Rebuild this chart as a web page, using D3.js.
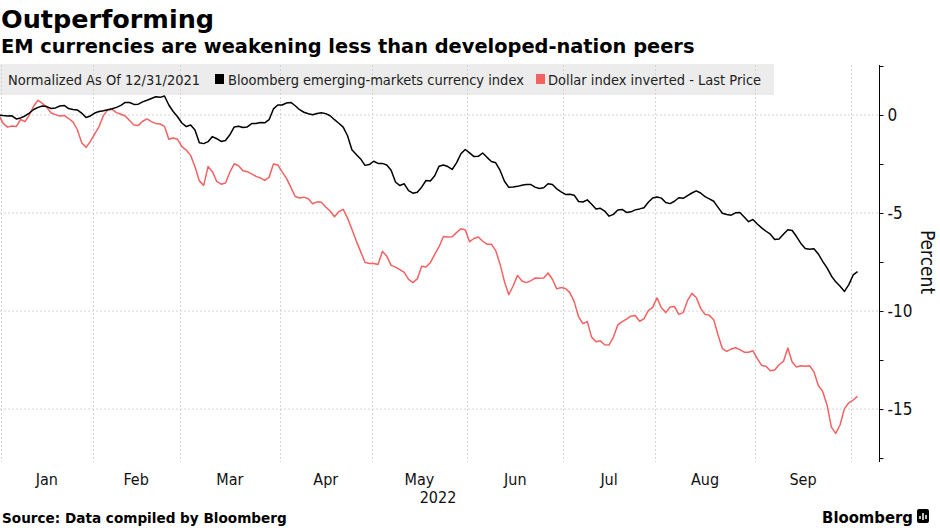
<!DOCTYPE html>
<html>
<head>
<meta charset="utf-8">
<script src="https://cdn.jsdelivr.net/npm/d3@7"></script>
<style>
  html, body { margin: 0; padding: 0; background: #fff; }
  svg { display: block; }
</style>
</head>
<body>
<svg id="chart" width="940" height="528"></svg>
<script>
// ---- Data (weekday series, index 0 = 12/31/2021) ----
const monthLabels = ["Jan","Feb","Mar","Apr","May","Jun","Jul","Aug","Sep"];
// month boundaries expressed in weekday index (between last day of a month and first of next)
const monthBounds = [0.5, 21.5, 41.5, 64.5, 85.5, 107.5, 129.5, 150.5, 173.5, 195.5];
const yearLabel = "2022";
const yTicks = [2.5, 0, -2.5, -5, -7.5, -10, -12.5, -15, -17.5];
const yLabelTicks = [0, -5, -10, -15];

const seriesNames = ["Bloomberg emerging-markets currency index", "Dollar index inverted - Last Price"];

const emIndex = [
  0.00,-0.03,-0.05,-0.04,-0.20,-0.15,-0.05,0.10,0.28,0.39,
  0.46,0.43,0.33,0.36,0.46,0.49,0.33,0.28,0.26,0.10,
  -0.13,-0.05,0.10,0.18,0.22,0.27,0.32,0.39,0.49,0.64,
  0.64,0.54,0.55,0.67,0.75,0.84,0.93,0.90,0.97,0.51,
  0.18,-0.09,-0.41,-0.59,-0.51,-0.77,-1.42,-1.46,-1.36,-1.10,
  -1.21,-1.35,-1.30,-1.01,-0.61,-0.57,-0.64,-0.61,-0.44,-0.43,
  -0.38,-0.40,-0.24,0.31,0.51,0.51,0.61,0.64,0.47,0.27,
  0.14,0.06,0.01,0.08,0.11,0.07,-0.04,-0.24,-0.42,-0.62,
  -1.06,-1.77,-2.01,-2.24,-2.57,-2.53,-2.36,-2.47,-2.47,-2.55,
  -2.82,-3.42,-3.60,-3.51,-3.86,-3.99,-3.94,-3.68,-3.34,-3.37,
  -3.10,-2.61,-2.55,-2.63,-2.78,-2.44,-1.98,-1.76,-1.93,-2.12,
  -2.11,-1.94,-2.16,-2.37,-2.44,-2.83,-3.38,-3.69,-3.67,-3.64,
  -3.58,-3.55,-3.54,-3.68,-3.75,-3.71,-3.51,-3.55,-3.77,-3.92,
  -4.05,-4.04,-4.09,-4.41,-4.44,-4.33,-4.55,-4.79,-4.76,-4.90,
  -5.16,-5.07,-4.85,-4.82,-4.97,-4.94,-4.84,-4.79,-4.73,-4.45,
  -4.23,-4.18,-4.24,-4.46,-4.52,-4.40,-4.22,-4.25,-4.11,-3.98,
  -3.87,-3.98,-4.16,-4.28,-4.40,-4.71,-5.01,-5.08,-5.11,-4.99,
  -4.97,-5.20,-5.44,-5.33,-5.56,-5.76,-5.93,-6.08,-6.35,-6.33,
  -6.08,-5.85,-5.89,-6.20,-6.55,-6.81,-6.85,-6.82,-7.09,-7.47,
  -7.80,-8.21,-8.51,-8.74,-9.00,-8.65,-8.16,-7.99
];

const dollarInverted = [
  0.00,-0.43,-0.62,-0.56,-0.59,-0.23,-0.34,0.00,0.46,0.75,
  0.59,0.39,0.10,0.02,-0.05,-0.02,-0.18,-0.35,-0.74,-1.41,
  -1.65,-1.35,-0.96,-0.59,-0.02,0.26,0.29,0.12,0.04,-0.05,
  -0.28,-0.51,-0.53,-0.32,-0.20,-0.34,-0.43,-0.46,-0.58,-1.24,
  -1.17,-1.24,-1.61,-1.79,-2.06,-2.64,-3.36,-3.59,-2.63,-2.89,
  -3.39,-3.53,-3.47,-2.92,-2.49,-2.59,-2.84,-2.89,-3.00,-3.13,
  -3.21,-3.34,-3.18,-2.50,-2.55,-2.90,-3.23,-3.69,-4.16,-4.23,
  -4.19,-4.27,-4.53,-4.43,-4.45,-4.69,-4.90,-5.19,-4.93,-4.81,
  -5.26,-5.83,-6.42,-6.97,-7.51,-7.57,-7.57,-7.63,-6.95,-7.20,
  -7.67,-7.76,-7.89,-8.03,-8.39,-8.55,-8.36,-7.72,-7.75,-7.53,
  -7.11,-6.72,-6.20,-6.22,-6.21,-6.00,-5.80,-5.86,-6.46,-6.30,
  -6.22,-6.44,-6.59,-6.59,-6.92,-7.62,-8.50,-9.17,-8.71,-8.18,
  -8.47,-8.55,-8.46,-8.32,-8.33,-8.31,-8.06,-8.38,-8.87,-8.80,
  -8.85,-9.06,-9.52,-10.29,-10.64,-10.54,-11.33,-11.57,-11.52,-11.72,
  -11.73,-11.33,-10.71,-10.54,-10.41,-10.26,-10.23,-10.52,-10.40,-9.98,
  -9.81,-9.33,-9.83,-10.08,-9.79,-9.77,-10.17,-10.08,-9.46,-9.10,
  -9.31,-9.85,-10.17,-10.22,-10.44,-11.22,-11.92,-12.06,-11.94,-11.87,
  -11.97,-12.10,-12.10,-12.03,-12.43,-12.77,-12.82,-13.05,-13.01,-12.74,
  -12.57,-11.89,-12.60,-12.85,-12.79,-12.81,-12.79,-13.10,-13.80,-14.10,
  -14.79,-15.92,-16.24,-15.80,-14.98,-14.68,-14.54,-14.35
];

// ---- Layout ----
const svg = d3.select("#chart");
const plot = { left: 0, right: 879, top: 65, bottom: 462 };
const black = "#000000", red = "#f26262", grid = "#d4d4d4";
const condensed = "'DejaVu Sans Condensed','Liberation Sans Narrow','DejaVu Sans',sans-serif";
const bold = "'DejaVu Sans','Liberation Sans',sans-serif";

const x = d3.scaleLinear().domain([0.5, 195.5]).range([1, 851]);
const y = d3.scaleLinear().domain([-17.7, 2.55]).range([plot.bottom, plot.top]);

// Title
svg.append("text").attr("x", 1).attr("y", 28)
  .style("font-family", bold).style("font-weight", "bold").style("font-size", "25.5px")
  .text("Outperforming");
svg.append("text").attr("x", 1).attr("y", 53)
  .style("font-family", bold).style("font-weight", "bold").style("font-size", "19.4px")
  .text("EM currencies are weakening less than developed-nation peers");

// Legend background
svg.append("rect").attr("x", 0).attr("y", 64).attr("width", 774).attr("height", 31)
  .attr("fill", "#ececec");

// Grid lines
const gGrid = svg.append("g");
gGrid.selectAll("line.h").data(yLabelTicks).join("line")
  .attr("x1", plot.left).attr("x2", plot.right)
  .attr("y1", d => y(d)).attr("y2", d => y(d))
  .attr("stroke", grid).attr("stroke-width", 1).attr("stroke-dasharray", "2,2");
gGrid.selectAll("line.v").data(monthBounds).join("line")
  .attr("x1", d => Math.round(x(d)) + 0.5).attr("x2", d => Math.round(x(d)) + 0.5)
  .attr("y1", plot.top).attr("y2", plot.bottom)
  .attr("stroke", grid).attr("stroke-width", 1).attr("stroke-dasharray", "2,2");

// Lines
svg.append("defs").append("clipPath").attr("id", "clip")
  .append("rect").attr("x", plot.left).attr("y", plot.top)
  .attr("width", plot.right - plot.left).attr("height", plot.bottom - plot.top);

const line = d3.line().x((d, i) => x(i)).y(d => y(d));
const gLines = svg.append("g").attr("clip-path", "url(#clip)");
gLines.append("path").datum(dollarInverted).attr("d", line)
  .attr("fill", "none").attr("stroke", red).attr("stroke-width", 1.5).attr("stroke-linejoin", "round");
gLines.append("path").datum(emIndex).attr("d", line)
  .attr("fill", "none").attr("stroke", black).attr("stroke-width", 1.5).attr("stroke-linejoin", "round");

// Legend text
const lg = svg.append("g").style("font-family", condensed).style("font-size", "14.5px").attr("fill", "#222");
lg.append("text").attr("x", 8).attr("y", 85).text("Normalized As Of 12/31/2021");
const legendItems = [
  { name: seriesNames[0], color: black, sx: 215, tx: 228 },
  { name: seriesNames[1], color: red, sx: 536, tx: 548 }
];
legendItems.forEach(it => {
  lg.append("rect").attr("x", it.sx).attr("y", 74).attr("width", 9).attr("height", 10).attr("fill", it.color);
  lg.append("text").attr("x", it.tx).attr("y", 85).text(it.name);
});

// Right axis
const yAxis = d3.axisRight(y).tickValues(yTicks).tickSize(4).tickPadding(4)
  .tickFormat(d => yLabelTicks.includes(d) ? String(d) : "");
const gAxis = svg.append("g").attr("transform", `translate(${plot.right + 0.5},0)`).call(yAxis);
gAxis.select(".domain").attr("d", `M0,${plot.top}V${plot.bottom}`).attr("stroke", "#000");
gAxis.selectAll(".tick line").attr("stroke", "#000");
gAxis.selectAll(".tick text").style("font-family", condensed).style("font-size", "17px").attr("fill", "#111");

svg.append("text")
  .attr("transform", `translate(921,${y(-7.5)}) rotate(90)`)
  .attr("text-anchor", "middle")
  .style("font-family", condensed).style("font-size", "19px").attr("fill", "#111")
  .text("Percent");

// X labels
const mids = monthLabels.map((m, i) => ({ m, c: (x(monthBounds[i]) + x(monthBounds[i + 1])) / 2 }));
svg.append("g").selectAll("text").data(mids).join("text")
  .attr("x", d => d.c).attr("y", 485).attr("text-anchor", "middle")
  .style("font-family", condensed).style("font-size", "16px").attr("fill", "#111")
  .text(d => d.m);
svg.append("text").attr("x", 438).attr("y", 503).attr("text-anchor", "middle")
  .style("font-family", condensed).style("font-size", "16px").attr("fill", "#111")
  .text(yearLabel);

// Footer
svg.append("text").attr("x", 2).attr("y", 523)
  .style("font-family", bold).style("font-weight", "bold").style("font-size", "13.6px")
  .text("Source: Data compiled by Bloomberg");
svg.append("text").attr("x", 913).attr("y", 523).attr("text-anchor", "end")
  .style("font-family", condensed).style("font-weight", "bold").style("font-size", "16.5px")
  .text("Bloomberg");
const logo = svg.append("g").attr("transform", "translate(917,509)");
logo.append("rect").attr("width", 12).attr("height", 14).attr("rx", 2).attr("fill", "#000");
[[3,7,10],[6,4,11],[9,6,10]].forEach(([cx, y1, y2]) => {
  logo.append("line").attr("x1", cx).attr("x2", cx).attr("y1", y1).attr("y2", y2)
    .attr("stroke", "#fff").attr("stroke-width", 1.5);
});
</script>
</body>
</html>
